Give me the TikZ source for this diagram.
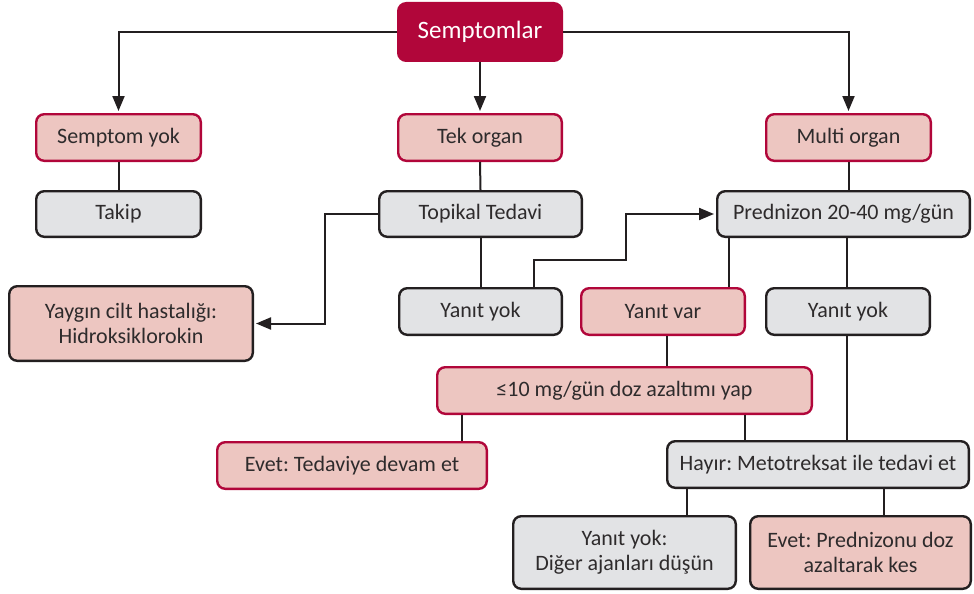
\documentclass[tikz,border=0pt]{standalone}
\usepackage{fontspec}
\setmainfont{Carlito}
\frenchspacing
\usetikzlibrary{arrows.meta,calc}
\definecolor{crim}{HTML}{B1063A}
\definecolor{pinkf}{HTML}{EDC6C1}
\definecolor{grayf}{HTML}{E2E3E5}
\definecolor{dk}{HTML}{231F20}
\definecolor{txt}{HTML}{2E2B2C}
\tikzset{
 base/.style={rounded corners=8pt, line width=2.4pt, inner sep=0pt, align=center, font=\fontsize{22}{25}\selectfont, text=txt},
 redbox/.style={base, draw=crim, fill=pinkf},
 pinkdark/.style={base, draw=dk, fill=pinkf},
 graybox/.style={base, draw=dk, fill=grayf},
 topbox/.style={base, draw=crim, fill=crim, text=white, font=\fontsize{25}{28}\selectfont},
 conn/.style={line width=2pt, draw=dk},
 arr/.style={conn, -{Triangle[length=15pt,width=12pt]}, shorten >=2pt},
}
\newcommand\bx[7]{%
 \pgfmathsetmacro\cx{(#2+#4)/2}\pgfmathsetmacro\cy{(#3+#5)/2}%
 \pgfmathsetmacro\bw{#4-#2-2.4}\pgfmathsetmacro\bh{#5-#3-2.4}%
 \node[#6, minimum width=\bw pt, minimum height=\bh pt] (#1) at (\cx,\cy) {#7};}
\begin{document}
\begin{tikzpicture}[x=1pt,y=-1pt]
\useasboundingbox (0,0) rectangle (974,594);
\bx{S}{397}{2}{563}{62}{topbox}{Semptomlar}
\bx{sy}{35}{113}{202}{162}{redbox}{Semptom yok}
\bx{to}{397}{113}{563}{162}{redbox}{Tek organ}
\bx{mo}{765}{113}{932}{162}{redbox}{Multi organ}
\bx{tk}{35}{190}{202}{238}{graybox}{Takip}
\bx{tt}{378}{190}{583}{238}{graybox}{Topikal Tedavi}
\bx{pz}{716}{190}{971}{238}{graybox}{Prednizon 20-40 mg/gün}
\bx{yc}{8}{285}{254}{362}{pinkdark}{Yaygın cilt hastalığı:\\Hidroksiklorokin}
\bx{yl}{398}{287}{563}{336}{graybox}{Yanıt yok}
\bx{yv}{580}{287}{746}{336}{redbox}{Yanıt var}
\bx{yr}{765}{287}{931}{336}{graybox}{Yanıt yok}
\bx{dz}{436}{366}{813}{415}{redbox}{≤10 mg/gün doz azaltımı yap}
\bx{ev}{216}{441}{488}{490}{redbox}{Evet: Tedaviye devam et}
\bx{hy}{666}{440}{970}{489}{graybox}{Hayır: Metotreksat ile tedavi et}
\bx{yd}{512}{515}{737}{590}{graybox}{Yanıt yok:\\Diğer ajanları düşün}
\bx{ep}{749}{515}{972}{590}{pinkdark}{Evet: Prednizonu doz\\azaltarak kes}
\coordinate (c1) at (325,0);
\coordinate (c2) at (534,260);
\coordinate (c3) at (626,260);
\coordinate (c4) at (729,0);
\coordinate (c5) at (847,0);
\coordinate (c6) at (667,0);
\coordinate (c7) at (462,0);
\coordinate (c8) at (745,0);
\coordinate (c9) at (687,0);
\coordinate (c10) at (884,0);
\draw[arr] (S.west) -| (sy.north);
\draw[arr] (S.south) -- (to.north);
\draw[arr] (S.east) -| (mo.north);
\draw[conn] (sy.south) -- (tk.north);
\draw[conn] (to.south) -- (tt.north);
\draw[conn] (mo.south) -- (mo.south |- pz.north);
\draw[arr] (tt.west) -- (tt.west -| c1) |- (yc.east);
\draw[conn] (tt.south) -- (tt.south |- yl.north);
\draw[arr] (c2 |- yl.north) -- (c2) -- (c3) |- (pz.west);
\draw[conn] (c4 |- pz.south) -- (c4 |- yv.north);
\draw[conn] (c5 |- pz.south) -- (c5 |- yr.north);
\draw[conn] (c5 |- yr.south) -- (c5 |- hy.north);
\draw[conn] (c6 |- yv.south) -- (c6 |- dz.north);
\draw[conn] (c7 |- dz.south) -- (c7 |- ev.north);
\draw[conn] (c8 |- dz.south) -- (c8 |- hy.north);
\draw[conn] (c9 |- hy.south) -- (c9 |- yd.north);
\draw[conn] (c10 |- hy.south) -- (c10 |- ep.north);
\end{tikzpicture}
\end{document}
